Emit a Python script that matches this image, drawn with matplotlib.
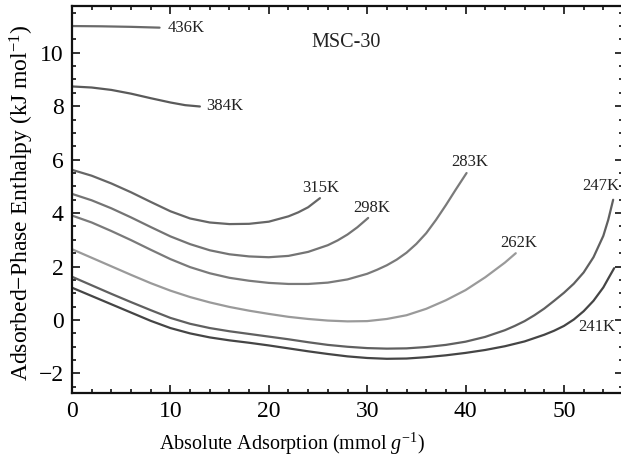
import matplotlib
matplotlib.use("Agg")
import matplotlib.pyplot as plt
from matplotlib.ticker import MultipleLocator

# ---- data ----
x436 = [0, 3, 6, 8.9]
y436 = [11.0, 10.99, 10.97, 10.94]

x384 = [0, 2, 4, 6, 8, 10, 11.5, 13]
y384 = [8.74, 8.70, 8.61, 8.47, 8.30, 8.14, 8.04, 7.99]

x315 = [0, 2, 4, 6, 8, 10, 12, 14, 16, 18, 20, 22, 23, 24, 25.2]
y315 = [5.62, 5.40, 5.11, 4.78, 4.42, 4.07, 3.80, 3.65, 3.59, 3.60, 3.68, 3.88, 4.03, 4.22, 4.56]

x298 = [0, 2, 4, 6, 8, 10, 12, 14, 16, 18, 20, 22, 24, 26, 27, 28, 29, 30.1]
y298 = [4.72, 4.48, 4.18, 3.84, 3.48, 3.13, 2.84, 2.61, 2.46, 2.38, 2.35, 2.40, 2.55, 2.80, 2.98, 3.20, 3.47, 3.82]

x283 = [0, 2, 4, 6, 8, 10, 12, 14, 16, 18, 20, 22, 24, 26, 28, 30, 31, 32, 33, 34, 35, 36, 37, 38, 39, 40.1]
y283 = [3.91, 3.65, 3.33, 2.99, 2.63, 2.28, 1.98, 1.75, 1.58, 1.47, 1.39, 1.35, 1.35, 1.40, 1.52, 1.73, 1.88, 2.05, 2.26, 2.52, 2.85, 3.25, 3.75, 4.30, 4.88, 5.50]

x262 = [0, 2, 4, 6, 8, 10, 12, 14, 16, 18, 20, 22, 24, 26, 28, 30, 32, 34, 36, 38, 40, 42, 44, 45.1]
y262 = [2.65, 2.33, 2.01, 1.69, 1.38, 1.10, 0.86, 0.66, 0.49, 0.35, 0.23, 0.12, 0.04, -0.02, -0.05, -0.04, 0.04, 0.18, 0.42, 0.74, 1.12, 1.60, 2.15, 2.50]

x247 = [0, 2, 4, 6, 8, 10, 12, 14, 16, 18, 20, 22, 24, 26, 28, 30, 32, 34, 36, 38, 40, 42, 44, 45, 46, 47, 48, 49, 50, 51, 52, 53, 54, 54.5, 55]
y247 = [1.62, 1.30, 0.98, 0.67, 0.37, 0.08, -0.14, -0.30, -0.42, -0.52, -0.62, -0.72, -0.83, -0.93, -1.00, -1.05, -1.07, -1.06, -1.01, -0.93, -0.81, -0.63, -0.38, -0.22, -0.04, 0.18, 0.43, 0.72, 1.02, 1.36, 1.78, 2.35, 3.15, 3.75, 4.50]

x241 = [0, 2, 4, 6, 8, 10, 12, 14, 16, 18, 20, 22, 24, 26, 28, 30, 32, 34, 36, 38, 40, 42, 44, 46, 48, 49, 50, 51, 52, 53, 54, 54.5, 55.1]
y241 = [1.21, 0.90, 0.59, 0.28, -0.03, -0.30, -0.50, -0.65, -0.76, -0.85, -0.95, -1.06, -1.17, -1.27, -1.36, -1.42, -1.45, -1.44, -1.39, -1.32, -1.23, -1.12, -0.98, -0.80, -0.55, -0.40, -0.22, 0.02, 0.33, 0.72, 1.22, 1.55, 1.94]

labels = ["436K", "384K", "315K", "298K", "283K", "262K", "247K", "241K"]
label_x = [9.7, 13.6, 25.3, 30.5, 40.4, 45.4, 53.7, 53.3]
label_y = [10.94, 8.0, 4.94, 4.19, 5.92, 2.9, 5.02, -0.25]

series = [(x436, y436), (x384, y384), (x315, y315), (x298, y298),
          (x283, y283), (x262, y262), (x247, y247), (x241, y241)]
colors = ["#6a6a6a", "#5a5a5a", "#666666", "#747474", "#7a7a7a", "#9a9a9a", "#606060", "#454545"]

plt.rcParams['font.family'] = ['Liberation Serif', 'DejaVu Serif']
plt.rcParams['mathtext.fontset'] = 'custom'
plt.rcParams['mathtext.rm'] = 'Liberation Serif'
plt.rcParams['mathtext.it'] = 'Liberation Serif:italic'

fig = plt.figure(figsize=(6.21, 4.63), dpi=100)
ax = fig.add_axes([72/621, 70/463, 551/621, 387/463])

for (xs, ys), c in zip(series, colors):
    ax.plot(xs, ys, color=c, lw=1.6, solid_capstyle='round', solid_joinstyle='round')

for i, (t, lx, ly) in enumerate(zip(labels, label_x, label_y)):
    ha = 'left' if i < 2 else 'center'
    ax.text(lx, ly, t, fontsize=12, ha=ha, va='center', color='#222222')

ax.text(27.9, 10.4, "MSC-30", fontsize=14.5, ha='center', va='center', color='#222222')

ax.set_xlim(0, 56)
ax.set_ylim(-2.73, 11.75)
ax.xaxis.set_major_locator(MultipleLocator(10))
ax.xaxis.set_minor_locator(MultipleLocator(2))
ax.yaxis.set_major_locator(MultipleLocator(2))
ax.yaxis.set_minor_locator(MultipleLocator(0.5))
ax.tick_params(which='both', direction='in', top=True, right=True, labelsize=17, width=1.2, color='#111111')
ax.tick_params(which='major', length=6, pad=6)
ax.tick_params(which='minor', length=3)
for s in ax.spines.values():
    s.set_linewidth(1.6)
    s.set_color('#111111')

ax.set_xlabel(r"Absolute Adsorption (mmol $g^{-1}$)", fontsize=14.5)
ax.xaxis.set_label_coords(0.399, -0.098)
ax.set_ylabel(r"Adsorbed$-$Phase Enthalpy (kJ mol$^{-1}$)", fontsize=17)
ax.yaxis.set_label_coords(-0.066, 0.49)

fig.savefig("out.png", dpi=100)
